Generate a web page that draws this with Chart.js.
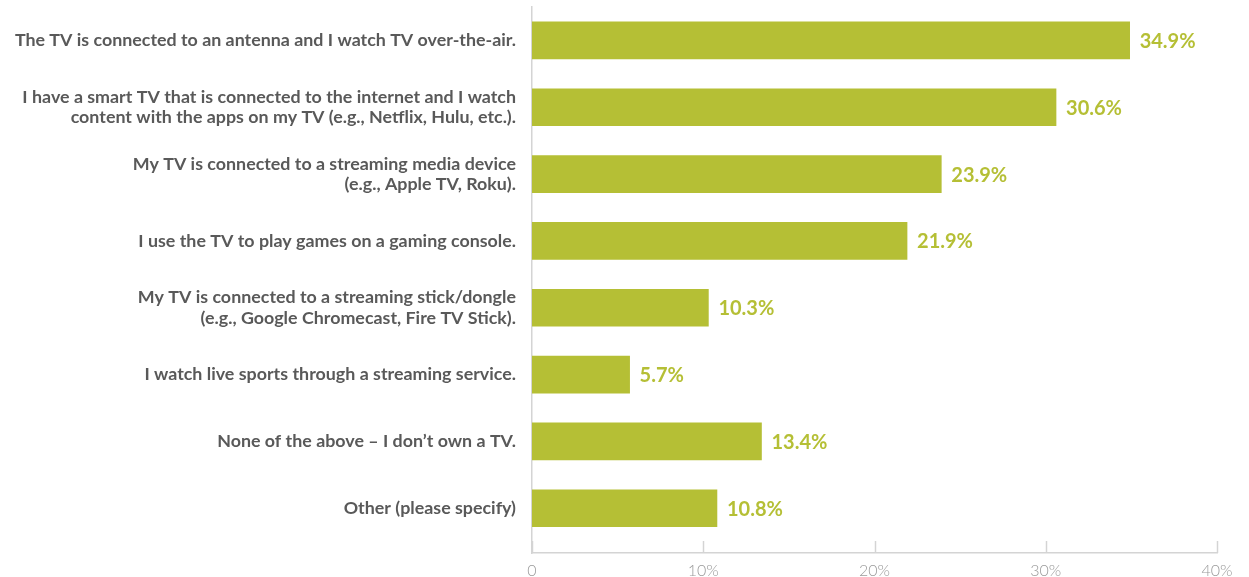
<!DOCTYPE html>
<html>
<head>
<meta charset="utf-8">
<script src="https://cdn.jsdelivr.net/npm/chart.js@4.4.1/dist/chart.umd.min.js"></script>
<style>
  html, body { margin: 0; padding: 0; background: #fff; }
  #wrap { width: 1249px; height: 577px; }
</style>
</head>
<body>
<div id="wrap"><canvas id="tvChart"></canvas></div>
<script>
// answer options (each entry = lines of the label)
var categories = [
    ['The TV is connected to an antenna and I watch TV over-the-air.'],
    ['I have a smart TV that is connected to the internet and I watch', 'content with the apps on my TV (e.g., Netflix, Hulu, etc.).'],
    ['My TV is connected to a streaming media device', '(e.g., Apple TV, Roku).'],
    ['I use the TV to play games on a gaming console.'],
    ['My TV is connected to a streaming stick/dongle', '(e.g., Google Chromecast, Fire TV Stick).'],
    ['I watch live sports through a streaming service.'],
    ['None of the above \u2013 I don\u2019t own a TV.'],
    ['Other (please specify)']
];
// share of respondents, %
var shares = [34.9, 30.6, 23.9, 21.9, 10.3, 5.7, 13.4, 10.8];
var xTicks = [0, 10, 20, 30, 40];

var barColor = '#b5bf35';
var axisColor = '#d4d4d4';

// value labels at the end of each bar
var valueLabels = {
    id: 'valueLabels',
    afterDatasetsDraw: function(chart) {
        var ctx = chart.ctx;
        var meta = chart.getDatasetMeta(0);
        ctx.save();
        ctx.font = 'bold 20px Lato';
        ctx.fillStyle = barColor;
        ctx.textAlign = 'left';
        ctx.textBaseline = 'middle';
        meta.data.forEach(function(bar, i) {
            ctx.fillText(shares[i].toFixed(1) + '%', bar.x + 10, bar.y + 1);
        });
        ctx.restore();
    }
};

// short tick marks rising from the x axis line
var xTickMarks = {
    id: 'xTickMarks',
    beforeDatasetsDraw: function(chart) {
        var ctx = chart.ctx;
        var x = chart.scales.x;
        var bottom = chart.chartArea.bottom;
        ctx.save();
        ctx.strokeStyle = axisColor;
        ctx.lineWidth = 1.5;
        x.ticks.forEach(function(t) {
            var px = Math.round(x.getPixelForValue(t.value)) + 0.5;
            ctx.beginPath();
            ctx.moveTo(px, bottom - 12);
            ctx.lineTo(px, bottom);
            ctx.stroke();
        });
        ctx.restore();
    }
};

var ctx = document.getElementById('tvChart').getContext('2d');
var tvChart = new Chart(ctx, {
    type: 'bar',
    data: {
        datasets: [{
            data: shares.map(function(v, i) { return {x: v, y: i}; }),
            backgroundColor: barColor,
            borderWidth: 0,
            barThickness: 37
        }]
    },
    plugins: [valueLabels, xTickMarks],
    options: {
        indexAxis: 'y',
        responsive: true,
        maintainAspectRatio: false,
        animation: false,
        layout: { padding: { top: 7, right: 32, left: 0, bottom: 0 } },
        plugins: {
            legend: { display: false },
            tooltip: { enabled: false }
        },
        scales: {
            x: {
                type: 'linear',
                position: 'bottom',
                min: 0,
                max: 40,
                afterBuildTicks: function(scale) {
                    scale.ticks = xTicks.map(function(v) { return {value: v}; });
                    scale.min = scale.options.min;
                    scale.max = scale.options.max;
                },
                grid: { display: false, drawTicks: false },
                border: { display: true, color: axisColor, width: 1.5 },
                ticks: {
                    color: '#9a9a9a',
                    font: { family: 'Lato', size: 16, weight: '300' },
                    padding: 8,
                    callback: function(v) { return v === 0 ? '0' : v + '%'; }
                },
                afterFit: function(scale) {
                    scale.height = 24;
                    scale.paddingLeft = 0;
                    scale.paddingRight = 0;
                }
            },
            y: {
                type: 'linear',
                reverse: true,
                offset: false,
                min: -0.5,
                max: 7.67,
                afterBuildTicks: function(scale) {
                    scale.ticks = categories.map(function(c, i) { return {value: i}; });
                    scale.min = scale.options.min;
                    scale.max = scale.options.max;
                },
                grid: { display: false, drawTicks: false, offset: false },
                border: { display: true, color: axisColor, width: 1.5 },
                ticks: {
                    color: '#595959',
                    font: { family: 'Lato', size: 17.85, weight: 'bold', lineHeight: 1.13 },
                    padding: 16,
                    callback: function(v) { return categories[v]; }
                },
                afterFit: function(scale) {
                    scale.width = 532;
                    scale.paddingTop = 0;
                    scale.paddingBottom = 0;
                }
            }
        }
    }
});
</script>
</body>
</html>
